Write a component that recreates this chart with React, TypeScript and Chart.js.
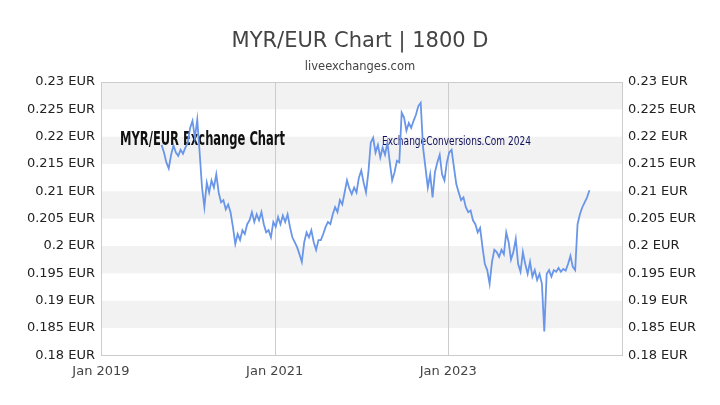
import React, { useEffect, useRef } from "react";
import { Chart, registerables } from "chart.js";

Chart.register(...registerables);

const TITLE = "MYR/EUR Chart | 1800 D";
const SUBTITLE = "liveexchanges.com";
const WATERMARK_MAIN = "MYR/EUR Exchange Chart";
const WATERMARK_SITE = "ExchangeConversions.Com 2024";
const CURRENCY = "EUR";

// sampling of the series: first date and spacing (days) between readings
const START_DATE = [2019, 8, 13];
const STEP_DAYS = 10;

// x-axis tick years (labels "Jan YYYY")
const X_TICK_YEARS = [2019, 2021, 2023];
const X_MIN_YEAR = 2019;
const X_MAX_YEAR = 2025;

const Y_MIN = 0.18;
const Y_MAX = 0.23;
const Y_STEP = 0.005;

// MYR -> EUR rate readings
const rates = [
  0.2185, 0.2171, 0.2153, 0.2142, 0.2167, 0.2184, 0.2171, 0.2165, 0.2176, 0.2169,
  0.2180, 0.2189, 0.2216, 0.2229, 0.2198, 0.2231, 0.2171, 0.2107, 0.2071, 0.2116,
  0.2098, 0.2120, 0.2107, 0.2131, 0.2098, 0.2080, 0.2084, 0.2067, 0.2076, 0.2062,
  0.2035, 0.2004, 0.2022, 0.2011, 0.2029, 0.2022, 0.2040, 0.2047, 0.2062, 0.2044,
  0.2058, 0.2047, 0.2062, 0.2040, 0.2025, 0.2029, 0.2016, 0.2044, 0.2035, 0.2053,
  0.2040, 0.2056, 0.2044, 0.2058, 0.2035, 0.2016, 0.2007, 0.1998, 0.1985, 0.1971,
  0.2007, 0.2025, 0.2016, 0.2029, 0.2007, 0.1993, 0.2011, 0.2011, 0.2022, 0.2035,
  0.2044, 0.2040, 0.2058, 0.2071, 0.2062, 0.2084, 0.2076, 0.2098, 0.2120, 0.2105,
  0.2095, 0.2107, 0.2098, 0.2125, 0.2138, 0.2116, 0.2098, 0.2135, 0.2189, 0.2198,
  0.2171, 0.2185, 0.2162, 0.2180, 0.2167, 0.2189, 0.2153, 0.2120, 0.2135, 0.2156,
  0.2153, 0.2244, 0.2235, 0.2211, 0.2225, 0.2216, 0.2229, 0.2240, 0.2256, 0.2262,
  0.2180, 0.2144, 0.2107, 0.2131, 0.2089, 0.2135, 0.2153, 0.2167, 0.2131, 0.2120,
  0.2153, 0.2171, 0.2176, 0.2144, 0.2113, 0.2098, 0.2084, 0.2089, 0.2071, 0.2062,
  0.2065, 0.2047, 0.2040, 0.2025, 0.2033, 0.1998, 0.1967, 0.1956, 0.1931, 0.1971,
  0.1993, 0.1989, 0.1980, 0.1993, 0.1985, 0.2025, 0.2007, 0.1975, 0.1989, 0.2013,
  0.1967, 0.1953, 0.1989, 0.1967, 0.1949, 0.1971, 0.1944, 0.1956, 0.1938, 0.1949,
  0.1931, 0.1844, 0.1949, 0.1956, 0.1944, 0.1956, 0.1953, 0.1960, 0.1953, 0.1958,
  0.1955, 0.1967, 0.1982, 0.1962, 0.1956, 0.2040, 0.2058, 0.2071, 0.2080, 0.2089,
  0.2102,
];

const DAY_MS = 86400000;
const startMs = Date.UTC(START_DATE[0], START_DATE[1], START_DATE[2]);
const points = rates.map((v, i) => ({ x: startMs + i * STEP_DAYS * DAY_MS, y: v }));

const fmtRate = (v: number) => `${parseFloat(Number(v).toFixed(3))} ${CURRENCY}`;

function drawSqueezed(
  ctx: CanvasRenderingContext2D,
  text: string,
  x: number,
  baseline: number,
  targetWidth: number,
  font: string,
  color: string
) {
  ctx.save();
  ctx.font = font;
  ctx.fillStyle = color;
  ctx.textBaseline = "alphabetic";
  ctx.textAlign = "left";
  const w = ctx.measureText(text).width;
  const s = targetWidth / w;
  ctx.translate(x, baseline);
  ctx.scale(s, 1);
  ctx.fillText(text, 0, 0);
  ctx.restore();
}

const backgroundPlugin = {
  id: "bands",
  beforeDatasetsDraw(chart: any) {
    const { ctx, chartArea, scales } = chart;
    const y = scales.y;
    ctx.save();
    const n = Math.round((Y_MAX - Y_MIN) / Y_STEP);
    for (let k = 0; k < n; k++) {
      const hi = Y_MAX - k * Y_STEP;
      const lo = hi - Y_STEP;
      if (k % 2 === 0) {
        const yTop = y.getPixelForValue(hi);
        const yBot = y.getPixelForValue(lo);
        ctx.fillStyle = "#f2f2f2";
        ctx.fillRect(chartArea.left, yTop, chartArea.right - chartArea.left, yBot - yTop);
      }
    }
    // vertical grid lines
    const x = scales.x;
    ctx.strokeStyle = "#cccccc";
    ctx.lineWidth = 1;
    X_TICK_YEARS.forEach((yr) => {
      const px = Math.round(x.getPixelForValue(Date.UTC(yr, 0, 1))) + 0.5;
      ctx.beginPath();
      ctx.moveTo(px, chartArea.top);
      ctx.lineTo(px, chartArea.bottom);
      ctx.stroke();
    });
    // frame
    ctx.strokeRect(
      Math.round(chartArea.left) + 0.5,
      Math.round(chartArea.top) + 0.5,
      Math.round(chartArea.right - chartArea.left),
      Math.round(chartArea.bottom - chartArea.top)
    );
    // watermarks
    drawSqueezed(
      ctx,
      WATERMARK_MAIN,
      chartArea.left + 19,
      chartArea.top + 63,
      165,
      'bold 20px "DejaVu Sans Condensed", "DejaVu Sans"',
      "#111111"
    );
    drawSqueezed(
      ctx,
      WATERMARK_SITE,
      chartArea.left + 281,
      chartArea.top + 62.5,
      149,
      '13px "DejaVu Sans Condensed", "DejaVu Sans"',
      "#10105e"
    );
    ctx.restore();
  },
};

export default function App() {
  const ref = useRef<HTMLCanvasElement | null>(null);

  useEffect(() => {
    document.body.style.margin = "0";
    const canvas = ref.current;
    if (!canvas) return;
    const tickFont = { family: '"DejaVu Sans", sans-serif', size: 13 };
    const chart = new Chart(canvas, {
      type: "line",
      data: {
        datasets: [
          {
            data: points,
            borderColor: "rgb(105,150,232)",
            borderWidth: 1.8,
            pointRadius: 0,
            tension: 0,
            fill: false,
            yAxisID: "y",
          },
        ],
      },
      options: {
        animation: false,
        responsive: false,
        devicePixelRatio: 1,
        layout: { padding: { left: 0, right: 0, top: 0, bottom: 18 } },
        plugins: {
          legend: { display: false },
          tooltip: { enabled: false },
          title: {
            display: true,
            text: TITLE,
            color: "#444444",
            font: { family: '"DejaVu Sans", sans-serif', size: 21, weight: "normal" },
            padding: { top: 29, bottom: 6 },
          },
          subtitle: {
            display: true,
            text: SUBTITLE,
            color: "#444444",
            font: { family: '"DejaVu Sans", sans-serif', size: 11.5 },
            padding: { top: 0, bottom: 8 },
          },
        },
        scales: {
          x: {
            type: "linear",
            min: Date.UTC(X_MIN_YEAR, 0, 1),
            max: Date.UTC(X_MAX_YEAR, 0, 1),
            afterBuildTicks: (scale: any) => {
              scale.ticks = X_TICK_YEARS.map((yr) => ({ value: Date.UTC(yr, 0, 1) }));
            },
            ticks: {
              color: "#444444",
              font: tickFont,
              padding: 8,
              maxRotation: 0,
              autoSkip: false,
              callback: (v: any) => `Jan ${new Date(Number(v)).getUTCFullYear()}`,
            },
            grid: { display: false, drawTicks: false },
            border: { display: false },
          },
          y: {
            position: "left",
            min: Y_MIN,
            max: Y_MAX,
            afterFit: (scale: any) => {
              scale.width = 101;
            },
            ticks: {
              stepSize: Y_STEP,
              color: "#222222",
              font: tickFont,
              padding: 6,
              callback: (v: any) => fmtRate(v),
            },
            grid: { display: false, drawTicks: false },
            border: { display: false },
          },
          y2: {
            position: "right",
            display: true,
            min: Y_MIN,
            max: Y_MAX,
            afterFit: (scale: any) => {
              scale.width = 98;
            },
            ticks: {
              stepSize: Y_STEP,
              color: "#222222",
              font: tickFont,
              padding: 6,
              callback: (v: any) => fmtRate(v),
            },
            grid: { display: false, drawTicks: false },
            border: { display: false },
          },
        },
      },
      plugins: [backgroundPlugin],
    } as any);
    return () => chart.destroy();
  }, []);

  return (
    <div style={{ width: 720, height: 405, background: "#ffffff" }}>
      <canvas ref={ref} width={720} height={405} style={{ display: "block" }} />
    </div>
  );
}
